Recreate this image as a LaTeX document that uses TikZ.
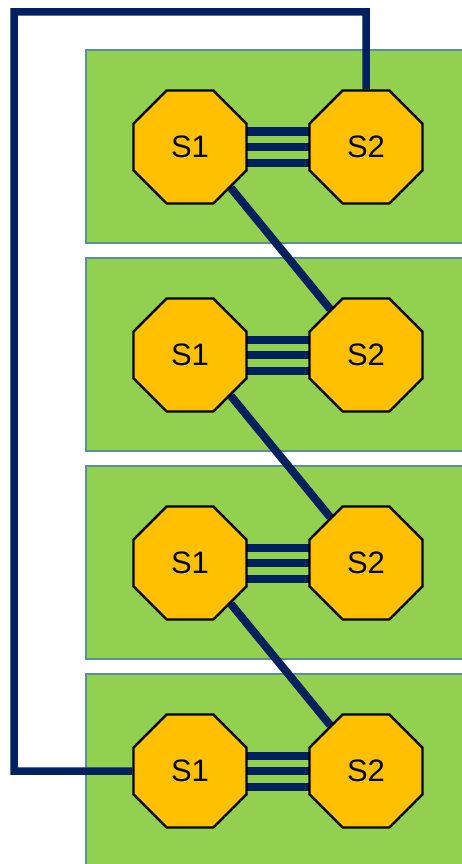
\documentclass[tikz,border=0pt]{standalone}
\usepackage{fontspec}
\setmainfont{Liberation Sans}
\usetikzlibrary{shapes.geometric}
\pgfdeclarelayer{panels}
\pgfdeclarelayer{links}
\pgfsetlayers{panels,links,main}
\definecolor{navy}{HTML}{002060}
\definecolor{panel}{HTML}{92D050}
\definecolor{panelrim}{HTML}{5A8FA0}
\definecolor{switchfill}{HTML}{FFC000}
\tikzset{
  panelbox/.style={fill=panel, draw=panelrim, line width=2pt},
  switchnode/.style={regular polygon, regular polygon sides=8, minimum size=122.3pt,
    inner sep=0pt, fill=switchfill, draw=black, line width=2.4pt,
    font=\fontsize{31}{33}\selectfont},
  link/.style={draw=navy, line width=8pt},
  loop/.style={draw=navy, line width=7.5pt, line join=miter}
}
\begin{document}
\begin{tikzpicture}[x=1pt, y=-1pt]
  \useasboundingbox (0,0) rectangle (462,864);
  \clip (0,0) rectangle (462,864);
  \node[switchnode] (a1) at (190,147) {S1};
  \node[switchnode] (b1) at (366,147) {S2};
  \node[switchnode] (a2) at (190,355) {S1};
  \node[switchnode] (b2) at (366,355) {S2};
  \node[switchnode] (a3) at (190,563) {S1};
  \node[switchnode] (b3) at (366,563) {S2};
  \node[switchnode] (a4) at (190,771) {S1};
  \node[switchnode] (b4) at (366,771) {S2};
  \coordinate (ctop) at (366,12);
  \coordinate (ctopl) at (14,12);
  \coordinate (cbotl) at (14,771);
  \begin{pgfonlayer}{panels}
    % four panels, each holding a switch pair
    \foreach \k in {0,1,2,3} {
      \path[panelbox] (86,{50+208*\k}) rectangle (480,{243+208*\k});
    }
  \end{pgfonlayer}
  \begin{pgfonlayer}{links}
    % triple links inside each pair
    \foreach \i in {1,2,3,4} {
      \foreach \d in {-15.5,0,15.5} {
        \draw[link] ([yshift=\d pt]a\i.center) -- ([yshift=\d pt]b\i.center);
      }
    }
    % diagonal links between neighbouring pairs
    \draw[link] (a1.-45) -- (b2.128);
    \draw[link] (a2.-45) -- (b3.128);
    \draw[link] (a3.-45) -- (b4.128);
    % outer ring
    \draw[loop] (b1.north) -- (ctop) -- (ctopl) -- (cbotl) -- (a4.west);
  \end{pgfonlayer}
\end{tikzpicture}
\end{document}
